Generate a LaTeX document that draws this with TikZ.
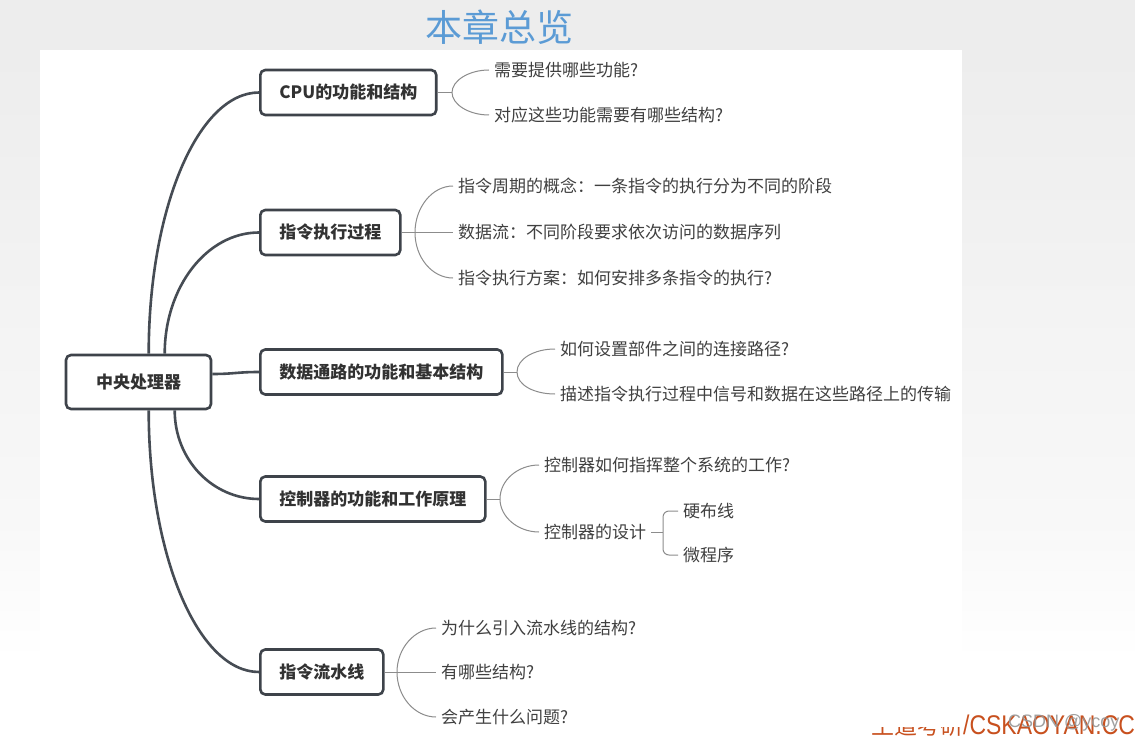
\documentclass[tikz,border=0pt]{standalone}
\usepackage{fontspec}
\setmainfont{Noto Sans CJK SC}
\newfontfamily\wmfont{Liberation Sans}[FakeStretch=0.85]
\newfontfamily\tagfont{Liberation Sans}
\usetikzlibrary{calc}
\definecolor{boxline}{RGB}{62,67,74}
\definecolor{mainline}{RGB}{70,76,84}
\definecolor{leafline}{RGB}{140,140,140}
\definecolor{boxtext}{RGB}{50,50,50}
\definecolor{leaftext}{RGB}{64,64,64}
\definecolor{titleblue}{RGB}{91,155,213}
\definecolor{wmred}{RGB}{200,80,30}
\definecolor{taggray}{RGB}{150,150,150}
\definecolor{bggray}{RGB}{237,237,237}
\definecolor{bgmid}{RGB}{248,248,248}

\begin{document}
\begin{tikzpicture}[x=1pt, y=-1pt,
  topic/.style={draw=boxline, line width=2.6pt, rounded corners=5pt, fill=white,
                text=boxtext, font=\fontsize{17}{20}\selectfont\bfseries,
                minimum height=45pt, inner xsep=19pt, anchor=west},
  leaf/.style={text=leaftext, font=\fontsize{17}{20}\selectfont,
               inner xsep=5pt, inner ysep=0pt, anchor=west},
  main/.style={draw=mainline, line width=2.6pt},
  twig/.style={draw=leafline, line width=1pt},
  wm/.style={text=wmred, inner sep=0pt}]
  \useasboundingbox (0,0) rectangle (1135,741);

  % Background
  \fill[white] (0,0) rectangle (1135,741);
  \fill[bggray] (0,0) rectangle (1135,50);
  \shade[top color=bggray, bottom color=bgmid] (0,50) rectangle (1135,520);
  \shade[top color=bgmid, bottom color=white] (0,520) rectangle (1135,660);
  \fill[white] (40,50) rectangle (962,741);

  % Title
  \node[text=titleblue, font=\fontsize{37}{40}\selectfont] (title) at (499,27) {本章总览};

  % Root and topics
  \node[topic, anchor=center, minimum width=145pt, minimum height=54pt] (root) at (138.5,382) {中央处理器};
  \node[topic] (cpu)  at (259,92.5)  {CPU的功能和结构};
  \node[topic] (exe)  at (259,232.5) {指令执行过程};
  \node[topic] (data) at (259,372)   {数据通路的功能和基本结构};
  \node[topic] (ctl)  at (259,499)   {控制器的功能和工作原理};
  \node[topic] (pipe) at (259,672)   {指令流水线};

  % Main branches
  \coordinate (r1) at ($(root.north west)+(84,0)$);
  \coordinate (r2) at ($(root.north west)+(100,0)$);
  \coordinate (r3) at ($(root.east)+(0,-8)$);
  \coordinate (r4) at ($(root.south west)+(110,0)$);
  \coordinate (r5) at ($(root.south west)+(84,0)$);
  \draw[main] (r1) .. controls +(0,-145) and +(-61,0) .. (cpu.west);
  \draw[main] (r2) .. controls +(0,-67) and +(-52,0) .. (exe.west);
  \draw[main] (r3) .. controls +(22,0) and +(-22,0) .. (data.west);
  \draw[main] (r4) .. controls +(0,50) and +(-46,0) .. (ctl.west);
  \draw[main] (r5) .. controls +(0,145) and +(-61,0) .. (pipe.west);

  % CPU
  \node[leaf] (c1) at (489,70)  {需要提供哪些功能?};
  \node[leaf] (c2) at (489,115) {对应这些功能需要有哪些结构?};
  \coordinate (cb) at (452,92.5);
  \draw[twig] (cpu.east) -- (cb);
  \draw[twig] (c1.west) .. controls +(-20,0) and +(0,-12) .. (cb)
                        .. controls +(0,12) and +(-20,0) .. (c2.west);

  % instruction cycle
  \node[leaf] (e1) at (453,186)   {指令周期的概念：一条指令的执行分为不同的阶段};
  \node[leaf] (e2) at (453,232.5) {数据流：不同阶段要求依次访问的数据序列};
  \node[leaf] (e3) at (453,278)   {指令执行方案：如何安排多条指令的执行?};
  \coordinate (eb) at (415,232.5);
  \draw[twig] (exe.east) -- (e2.west);
  \draw[twig] (e1.west) .. controls +(-21,0) and +(0,-25) .. (eb)
                        .. controls +(0,25) and +(-21,0) .. (e3.west);

  % datapath
  \node[leaf] (d1) at (555,349) {如何设置部件之间的连接路径?};
  \node[leaf] (d2) at (555,394) {描述指令执行过程中信号和数据在这些路径上的传输};
  \coordinate (db) at (517,372);
  \draw[twig] (data.east) -- (db);
  \draw[twig] (d1.west) .. controls +(-21,0) and +(0,-13) .. (db)
                        .. controls +(0,13) and +(-21,0) .. (d2.west);

  % controller
  \node[leaf] (k1) at (539,465) {控制器如何指挥整个系统的工作?};
  \node[leaf] (k2) at (539,532) {控制器的设计};
  \node[leaf] (k3) at (678,511) {硬布线};
  \node[leaf] (k4) at (678,555) {微程序};
  \coordinate (kb) at (500,499);
  \coordinate (ksb) at (663,532);
  \draw[twig] (ctl.east) -- (kb);
  \draw[twig] (k1.west) .. controls +(-21,0) and +(0,-19) .. (kb)
                        .. controls +(0,18) and +(-21,0) .. (k2.west);
  \draw[twig] (k2.east) -- (ksb);
  \draw[twig, rounded corners=6pt] (k3.west) -| (ksb) |- (k4.west);

  % pipeline
  \node[leaf] (p1) at (436,628) {为什么引入流水线的结构?};
  \node[leaf] (p2) at (436,672) {有哪些结构?};
  \node[leaf] (p3) at (436,717) {会产生什么问题?};
  \coordinate (pb) at (397,672);
  \draw[twig] (pipe.east) -- (p2.west);
  \draw[twig] (p1.west) .. controls +(-21,0) and +(0,-24) .. (pb)
                        .. controls +(0,25) and +(-21,0) .. (p3.west);

  % Watermarks
  \begin{scope}
    \clip (860,727) rectangle (964,741);
    \node[wm, anchor=base east, font=\fontsize{23}{26}\selectfont] (wmcn) at (964,734) {王道考研};
  \end{scope}
  \node[wm, anchor=base west, font=\wmfont\fontsize{27}{30}\selectfont] (wmen) at (963,734) {/CSKAOYAN.CC};
  \node[text=taggray, opacity=0.9, inner sep=0pt, anchor=base west,
        font=\tagfont\fontsize{18}{21}\selectfont] (csdn) at (1008,727) {CSDN @ycoy};
\end{tikzpicture}
\end{document}
